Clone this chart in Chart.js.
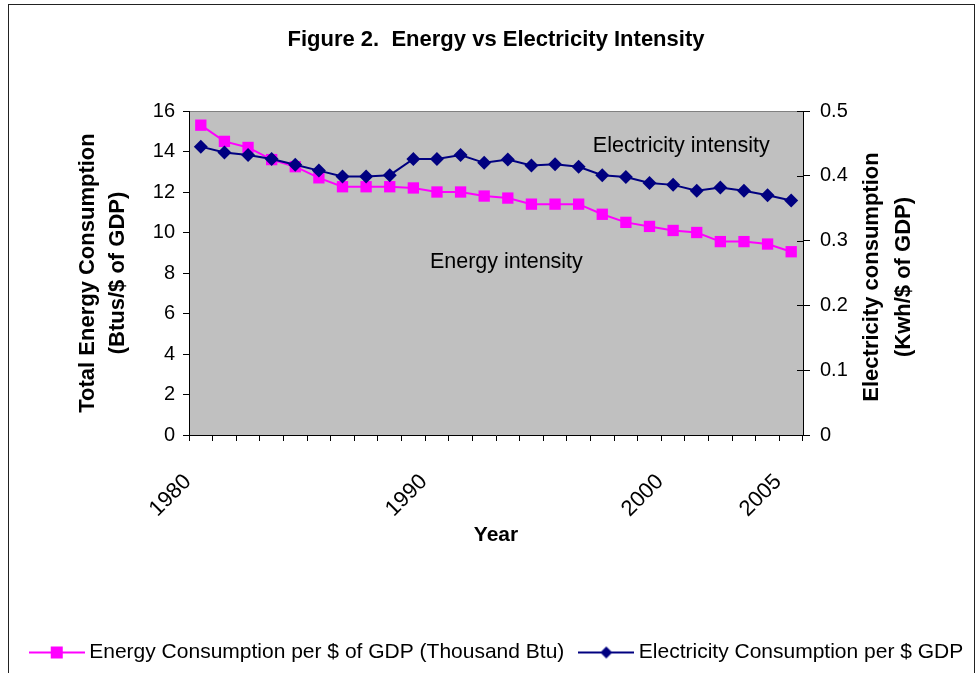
<!DOCTYPE html>
<html>
<head>
<meta charset="utf-8">
<script src="https://cdn.jsdelivr.net/npm/chart.js@4.4.0/dist/chart.umd.min.js"></script>
<style>
html, body { margin: 0; padding: 0; background: #fff; }
#wrap { position: relative; width: 976px; height: 673px; }
</style>
</head>
<body>
<div id="wrap"><canvas id="chart" width="976" height="673"></canvas></div>
<script>
// values
var years = ['1980', '1981', '1982', '1983', '1984', '1985', '1986', '1987', '1988', '1989',
             '1990', '1991', '1992', '1993', '1994', '1995', '1996', '1997', '1998', '1999',
             '2000', '2001', '2002', '2003', '2004', '2005'];
var energyIntensity = [15.3, 14.5, 14.2, 13.6, 13.25, 12.7, 12.26, 12.26, 12.26, 12.2,
                       12.0, 12.0, 11.8, 11.7, 11.4, 11.4, 11.4, 10.9, 10.5, 10.3,
                       10.1, 10.0, 9.55, 9.55, 9.43, 9.05];
var electricityIntensity = [0.445, 0.436, 0.432, 0.426, 0.417, 0.408, 0.399, 0.399, 0.401, 0.426,
                            0.426, 0.432, 0.420, 0.425, 0.416, 0.418, 0.414, 0.401, 0.398, 0.389,
                            0.386, 0.377, 0.382, 0.377, 0.370, 0.362];
var shownYears = ['1980', '1990', '2000', '2005'];
var seriesNames = ['Energy Consumption per $ of GDP (Thousand Btu)', 'Electricity Consumption per $ GDP'];
var noteTexts = ['Electricity intensity', 'Energy intensity'];

var PINK = '#FF00FF';
var NAVY = '#000080';
var FONT = "'Liberation Sans', Arial, sans-serif";

Chart.defaults.font.family = FONT;
Chart.defaults.color = '#000';

function legendMarker(color, style) {
    var c = document.createElement('canvas');
    c.width = 56;
    c.height = 14;
    var g = c.getContext('2d');
    g.strokeStyle = color;
    g.lineWidth = 2;
    g.beginPath();
    g.moveTo(0, 7);
    g.lineTo(56, 7);
    g.stroke();
    g.fillStyle = color;
    if (style === 'rect') {
        g.fillRect(22, 1, 12, 12);
    } else {
        g.beginPath();
        g.moveTo(28, 1);
        g.lineTo(34, 7);
        g.lineTo(28, 13);
        g.lineTo(22, 7);
        g.closePath();
        g.fill();
    }
    return c;
}
var markers = [legendMarker(PINK, 'rect'), legendMarker(NAVY, 'diamond')];

var framePlugin = {
    id: 'frame',
    afterLayout: function (chart) {
        // the legend row sits a little right of centre in the figure
        chart.legend.left += 11;
        chart.legend.right += 11;
    },
    beforeDraw: function (chart) {
        var ctx = chart.ctx, a = chart.chartArea;
        ctx.save();
        ctx.fillStyle = '#fff';
        ctx.fillRect(0, 0, chart.width, chart.height);
        ctx.strokeStyle = '#222';
        ctx.lineWidth = 1;
        ctx.strokeRect(8.5, 4.5, 966, 700);
        ctx.fillStyle = '#C0C0C0';
        ctx.fillRect(a.left, a.top, a.right - a.left, a.bottom - a.top);
        ctx.strokeStyle = '#808080';
        ctx.beginPath();
        ctx.moveTo(a.left, a.top + 0.5);
        ctx.lineTo(a.right, a.top + 0.5);
        ctx.stroke();
        ctx.restore();
    },
    afterDraw: function (chart) {
        var ctx = chart.ctx, a = chart.chartArea;
        var x = chart.scales.x, y = chart.scales.y, y1 = chart.scales.y1;
        ctx.save();
        // right axis ticks cross the axis line
        ctx.strokeStyle = '#000';
        ctx.lineWidth = 1;
        y1.ticks.forEach(function (t) {
            var py = Math.round(y1.getPixelForValue(t.value)) + 0.5;
            ctx.beginPath();
            ctx.moveTo(a.right - 6, py);
            ctx.lineTo(a.right, py);
            ctx.stroke();
        });
        ctx.restore();

        ctx.save();
        // right axis title reads bottom to top like the left one
        ctx.font = 'bold 22px ' + FONT;
        ctx.fillStyle = '#000';
        ctx.textAlign = 'center';
        ctx.textBaseline = 'middle';
        ctx.translate(a.right + 69, (a.top + a.bottom) / 2 + 4);
        ctx.rotate(-Math.PI / 2);
        ctx.fillText('Electricity consumption', 0, 0);
        ctx.fillText('(Kwh/$ of GDP)', 0, 32);
        ctx.restore();

        ctx.save();
        ctx.font = '21.5px ' + FONT;
        ctx.fillStyle = '#000';
        ctx.textAlign = 'left';
        ctx.textBaseline = 'middle';
        ctx.fillText(noteTexts[0], x.getPixelForValue(16.6), y.getPixelForValue(14.27));
        ctx.fillText(noteTexts[1], x.getPixelForValue(9.7), y.getPixelForValue(8.54));
        ctx.restore();
    }
};

var chart = new Chart(document.getElementById('chart').getContext('2d'), {
    type: 'line',
    data: {
        labels: years,
        datasets: [
            {
                label: seriesNames[0],
                data: energyIntensity,
                yAxisID: 'y',
                borderColor: PINK,
                backgroundColor: PINK,
                borderWidth: 2,
                pointStyle: 'rect',
                pointRadius: 8,
                pointBorderWidth: 0,
                tension: 0,
                order: 2
            },
            {
                label: seriesNames[1],
                data: electricityIntensity,
                yAxisID: 'y1',
                borderColor: NAVY,
                backgroundColor: NAVY,
                borderWidth: 2,
                pointStyle: 'rectRot',
                pointRadius: 7,
                pointBorderWidth: 0,
                tension: 0,
                order: 1
            }
        ]
    },
    options: {
        responsive: false,
        animation: false,
        devicePixelRatio: 1,
        layout: { padding: 0 },
        plugins: {
            tooltip: { enabled: false },
            title: {
                display: true,
                fullSize: false,
                text: 'Figure 2.  Energy vs Electricity Intensity',
                font: { size: 22, weight: 'bold', lineHeight: 1.2 },
                color: '#000',
                padding: { top: 26.8, bottom: 57.8 }
            },
            legend: {
                position: 'bottom',
                labels: {
                    usePointStyle: true,
                    pointStyleWidth: 44,
                    padding: 20,
                    color: '#000',
                    font: { size: 21 },
                    sort: function (a, b) { return a.datasetIndex - b.datasetIndex; },
                    generateLabels: function (ch) {
                        var items = Chart.defaults.plugins.legend.labels.generateLabels(ch);
                        items.forEach(function (it) { it.pointStyle = markers[it.datasetIndex]; });
                        return items;
                    }
                }
            }
        },
        scales: {
            x: {
                type: 'category',
                offset: true,
                grid: { display: true, drawOnChartArea: false, offset: true, tickLength: 6, color: '#000' },
                border: { display: true, color: '#000', width: 1 },
                ticks: {
                    autoSkip: false,
                    minRotation: 45,
                    maxRotation: 45,
                    padding: 28,
                    labelOffset: -13,
                    font: { size: 22 },
                    color: '#000',
                    callback: function (value) {
                        var lab = this.getLabelForValue(value);
                        return shownYears.indexOf(lab) >= 0 ? lab : '';
                    }
                },
                title: {
                    display: true,
                    text: 'Year',
                    font: { size: 21, weight: 'bold' },
                    color: '#000',
                    padding: { top: 0, bottom: 74 }
                },
                afterFit: function (s) {
                    s.height = s.chart.height - 435 - s.chart.legend.height;
                }
            },
            y: {
                position: 'left',
                min: 0,
                max: 16,
                ticks: { stepSize: 2, padding: 8, font: { size: 20 }, color: '#000' },
                grid: { drawOnChartArea: false, tickLength: 6, color: '#000' },
                border: { display: true, color: '#000', width: 1 },
                title: {
                    display: true,
                    text: ['Total Energy Consumption', '(Btus/$ of GDP)'],
                    font: { size: 22, weight: 'bold', lineHeight: '30px' },
                    color: '#000',
                    padding: { top: 73, bottom: 0 }
                },
                afterFit: function (s) { s.width = 189; }
            },
            y1: {
                position: 'right',
                min: 0,
                max: 0.5,
                ticks: { stepSize: 0.1, padding: 10, font: { size: 20 }, color: '#000' },
                grid: { drawOnChartArea: false, tickLength: 7, color: '#000' },
                border: { display: true, color: '#000', width: 1 },
                afterFit: function (s) { s.width = 173; }
            }
        }
    },
    plugins: [framePlugin]
});
</script>
</body>
</html>
